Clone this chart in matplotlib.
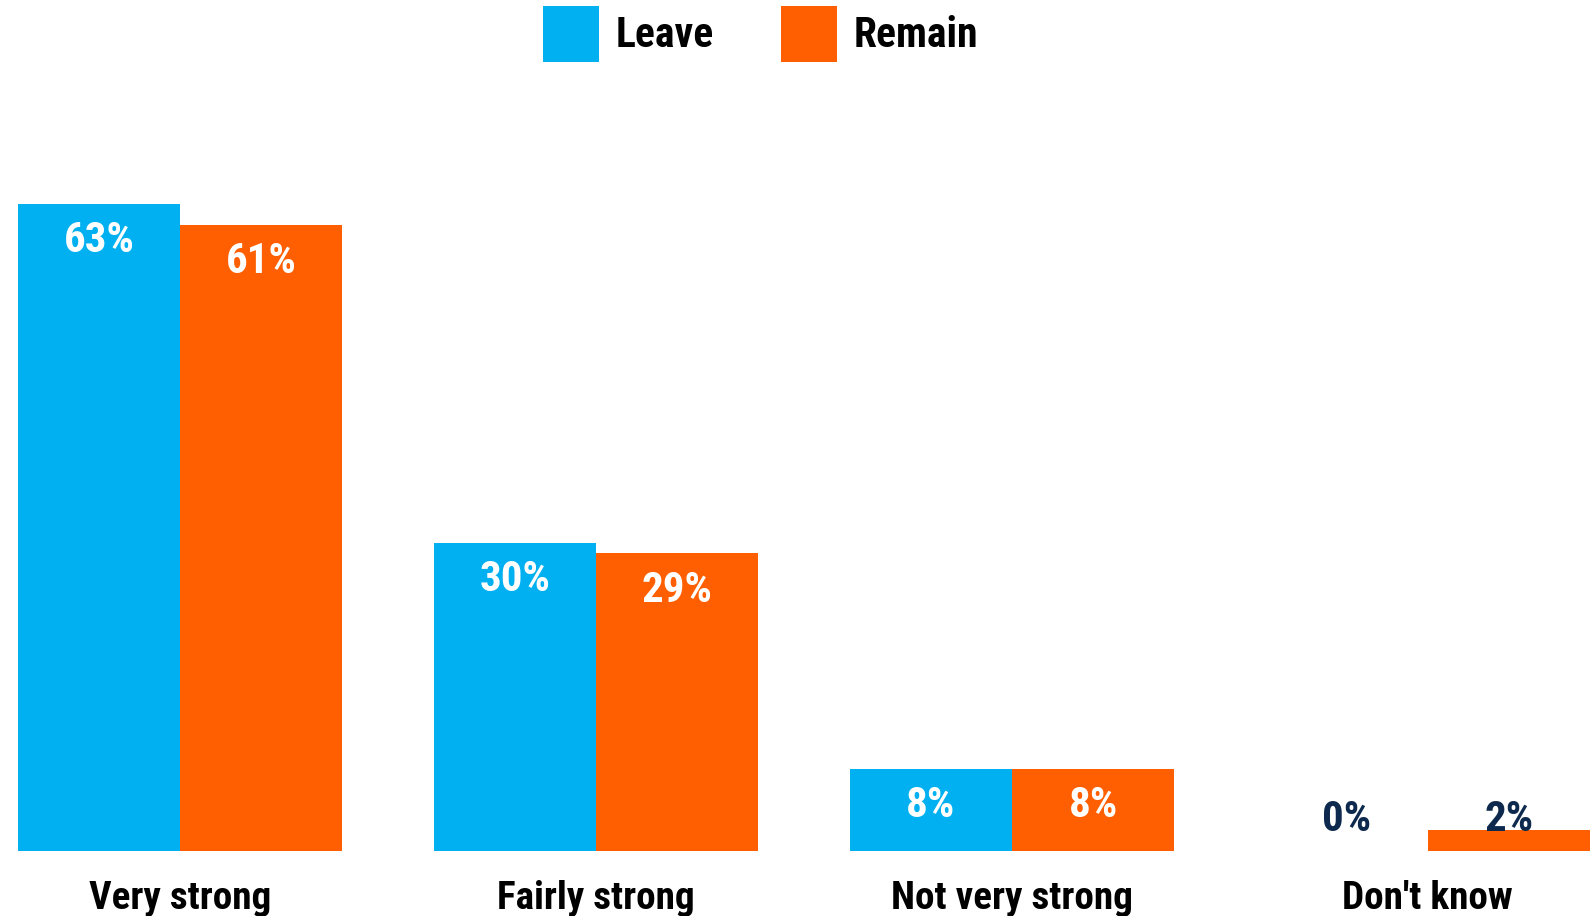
import matplotlib
matplotlib.use('Agg')
import matplotlib.pyplot as plt
import numpy as np
import os
from matplotlib import font_manager
from matplotlib.patches import Patch

categories = ['Very strong', 'Fairly strong', 'Not very strong', "Don't know"]
leave = [63, 30, 8, 0]
remain = [61, 29, 8, 2]
series_names = ['Leave', 'Remain']

blue = '#00B0F0'
orange = '#FF5F00'
navy = '#0D2A4E'

# look for a narrow heavy font file; fall back to DejaVu Sans bold
wanted = ['NotoSans-ExtraCondensedBold', 'NotoSans-CondensedBlack', 'NotoSans-CondensedExtraBold',
          'RobotoCondensed-Bold', 'NotoSans-CondensedBold', 'LiberationSansNarrow-Bold',
          'DejaVuSansCondensed-Bold']
files = [f.fname for f in font_manager.fontManager.ttflist]
font_file = None
for key in wanted:
    hits = [p for p in files if os.path.basename(p).startswith(key)]
    if hits:
        font_file = hits[0]
        break


def fp(size):
    if font_file:
        return font_manager.FontProperties(fname=font_file, size=size)
    return font_manager.FontProperties(family='DejaVu Sans', weight='bold', size=size)


fig = plt.figure(figsize=(15.96, 9.16), dpi=100)
ax = fig.add_axes([18 / 1596, 65 / 916, 1572 / 1596, 851 / 916])

x = np.arange(len(categories))
w = 0.39
ax.bar(x - w / 2, leave, w, color=blue, linewidth=0)
ax.bar(x + w / 2, remain, w, color=orange, linewidth=0)

for vals, off in [(leave, -w / 2), (remain, w / 2)]:
    for xi, v in zip(x, vals):
        inside = v > 6.5
        y = max(v - 3.6, 3.1)
        ax.text(xi + off, y, f'{v}%', ha='center', va='center',
                color='white' if inside else navy, fontproperties=fp(31))

for xi, c in zip(x, categories):
    ax.text(xi, -4.6, c, ha='center', va='center', color='black', fontproperties=fp(28.2))

ax.set_xlim(-w, len(categories) - 1 + w)
ax.set_ylim(0, 82.86)
ax.axis('off')

handles = [Patch(facecolor=blue, edgecolor='none'), Patch(facecolor=orange, edgecolor='none')]
leg = fig.legend(handles, series_names, loc='upper center', ncol=2,
                 bbox_to_anchor=(0.4766, 1.012), frameon=False,
                 handlelength=1.34, handleheight=1.69, handletextpad=0.4,
                 columnspacing=1.6, borderaxespad=0, prop=fp(30))

fig.savefig('out.png', dpi=100)
